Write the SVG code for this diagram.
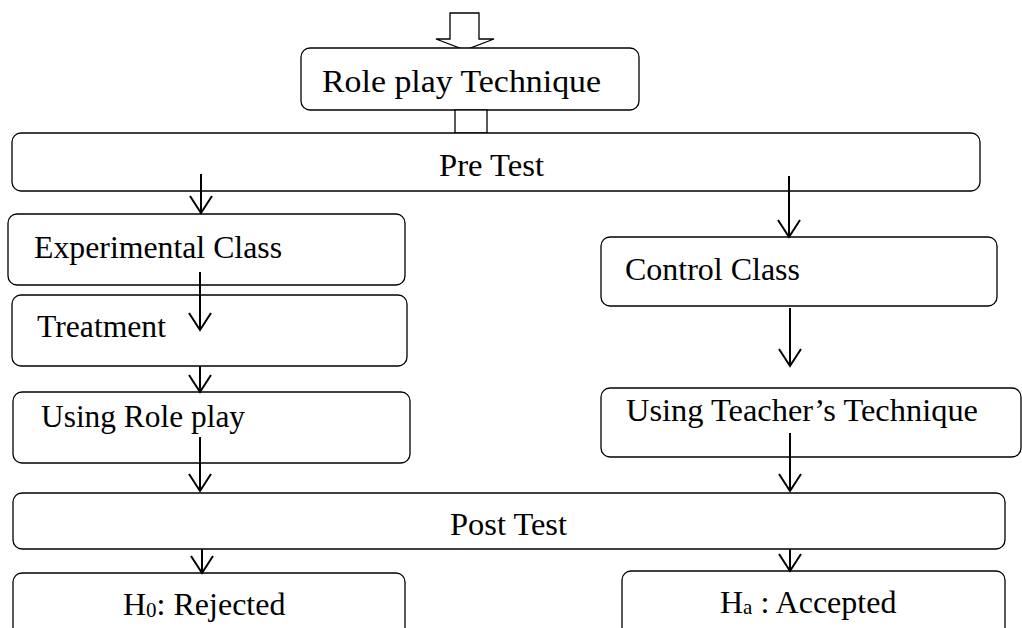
<svg xmlns="http://www.w3.org/2000/svg" width="1022" height="628" viewBox="0 0 1022 628">
<style>
.box{fill:#fff;stroke:#000;stroke-width:1.3}
.t{font-family:"Liberation Serif","Times New Roman",serif;font-size:32px;fill:#000}
.c{stroke:#000;stroke-width:2;fill:none}
</style>
<defs>
<marker id="v" markerUnits="userSpaceOnUse" markerWidth="20" markerHeight="26" refX="18" refY="12" orient="auto" viewBox="0 0 20 26">
<path d="M1,1 L18,12 L1,23" fill="none" stroke="#000" stroke-width="2"/>
</marker>
</defs>
<rect width="1022" height="628" fill="#fff"/>
<g id="start-arrow">
<path d="M450,13 H479 V39 H494 L465,50 L436,39 H450 Z" fill="#fff" stroke="#000" stroke-width="1.3"/>
</g>
<g id="role-play">
<rect class="box" x="301" y="48" width="338" height="62" rx="9"/>
<text class="t" x="322" y="92" textLength="279" lengthAdjust="spacingAndGlyphs">Role play Technique</text>
</g>
<g id="link">
<rect x="455" y="110" width="32" height="23" fill="#fff" stroke="#000" stroke-width="1.3"/>
</g>
<g id="pre-test">
<rect class="box" x="12" y="133" width="968" height="58" rx="9"/>
<text class="t" x="439" y="176" textLength="105" lengthAdjust="spacingAndGlyphs">Pre Test</text>
</g>
<g id="experimental">
<rect class="box" x="8" y="214" width="397" height="71" rx="9"/>
<text class="t" x="34" y="258" textLength="248" lengthAdjust="spacingAndGlyphs">Experimental Class</text>
</g>
<g id="treatment">
<rect class="box" x="12" y="295" width="395" height="71" rx="9"/>
<text class="t" x="37" y="337" textLength="129" lengthAdjust="spacingAndGlyphs">Treatment</text>
</g>
<g id="using-role-play">
<rect class="box" x="13" y="392" width="397" height="71" rx="9"/>
<text class="t" x="41" y="427" textLength="204" lengthAdjust="spacingAndGlyphs">Using Role play</text>
</g>
<g id="control">
<rect class="box" x="601" y="237" width="396" height="69" rx="9"/>
<text class="t" x="625" y="280" textLength="175" lengthAdjust="spacingAndGlyphs">Control Class</text>
</g>
<g id="teacher">
<rect class="box" x="601" y="388" width="420" height="69" rx="9"/>
<text class="t" x="626" y="421" textLength="352" lengthAdjust="spacingAndGlyphs">Using Teacher’s Technique</text>
</g>
<g id="post-test">
<rect class="box" x="13" y="493" width="992" height="56" rx="9"/>
<text class="t" x="450" y="535" textLength="117" lengthAdjust="spacingAndGlyphs">Post Test</text>
</g>
<g id="h0">
<rect class="box" x="13" y="573" width="392" height="70" rx="9"/>
<text class="t" x="123" y="615">H<tspan font-size="21" dy="2">0</tspan><tspan dy="-2">: Rejected</tspan></text>
</g>
<g id="ha">
<rect class="box" x="622" y="571" width="383" height="72" rx="9"/>
<text class="t" x="720" y="613">H<tspan font-size="21" dy="1">a</tspan><tspan dy="-1"> : Accepted</tspan></text>
</g>
<g id="connectors">
<line class="c" x1="201" y1="174" x2="201" y2="213" marker-end="url(#v)"/>
<line class="c" x1="789" y1="176" x2="789" y2="237" marker-end="url(#v)"/>
<line class="c" x1="200" y1="272" x2="200" y2="330" marker-end="url(#v)"/>
<line class="c" x1="200" y1="366" x2="200" y2="392" marker-end="url(#v)"/>
<line class="c" x1="790" y1="308" x2="790" y2="366" marker-end="url(#v)"/>
<line class="c" x1="200" y1="437" x2="200" y2="491" marker-end="url(#v)"/>
<line class="c" x1="790" y1="433" x2="790" y2="491" marker-end="url(#v)"/>
<line class="c" x1="202" y1="549" x2="202" y2="573" marker-end="url(#v)"/>
<line class="c" x1="790" y1="549" x2="790" y2="571" marker-end="url(#v)"/>
</g>
</svg>
